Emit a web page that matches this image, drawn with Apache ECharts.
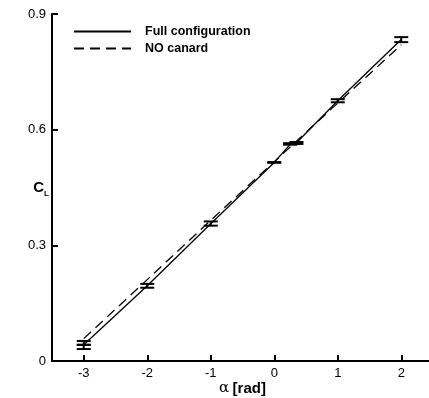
<!DOCTYPE html>
<html><head><meta charset="utf-8">
<script src="https://cdn.jsdelivr.net/npm/echarts@6/dist/echarts.min.js"></script>
<style>html,body{margin:0;padding:0;background:#fff}#c{width:429px;height:398px}</style>
</head><body><div id="c"></div>
<script>
const fullX = [-3, -2, -1, 0, 0.25, 0.35, 1, 2];
const fullY = [0.042, 0.195, 0.356, 0.515, 0.562, 0.566, 0.675, 0.834];
const noCanardX = [-3, -2, -1, 0, 1, 2];
const noCanardY = [0.058, 0.211, 0.365, 0.517, 0.669, 0.820];
const errX    = [-3, -3, -2, -1, 0, 0.25, 0.35, 1, 2];
const errLow  = [0.031, 0.042, 0.190, 0.351, 0.514, 0.561, 0.563, 0.671, 0.827];
const errHigh = [0.042, 0.052, 0.200, 0.362, 0.516, 0.565, 0.568, 0.679, 0.840];
const xTicks = [-3, -2, -1, 0, 1, 2];
const yTicks = [0, 0.3, 0.6, 0.9];

const chart = echarts.init(document.getElementById('c'), null, {renderer: 'canvas'});
const font = 'Liberation Sans, Arial, sans-serif';
chart.setOption({
  animation: false,
  textStyle: {fontFamily: font},
  grid: {left: 52, top: 14, bottom: 37, width: 381, containLabel: false, outerBoundsMode: 'none'},
  legend: {
    orient: 'vertical', left: 73, top: 25, itemGap: 4, itemWidth: 57, itemHeight: 10,
    padding: 0,
    data: ['Full configuration', 'NO canard'],
    itemStyle: {opacity: 0},
    textStyle: {fontFamily: font, fontWeight: 'bold', fontSize: 12.5, color: '#000', padding: [0, 0, 0, 9]}
  },
  xAxis: {
    type: 'value', min: -3.5, max: 2.5,
    name: '{a|α} {b|[rad]}', nameLocation: 'middle', nameGap: 20, nameMoveOverlap: false,
    nameTextStyle: {rich: {a: {fontFamily: 'DejaVu Serif', fontSize: 15, color: '#000'}, b: {fontFamily: font, fontWeight: 'bold', fontSize: 15, color: '#000'}}},
    axisLine: {onZero: false, lineStyle: {color: '#000', width: 2}},
    axisTick: {inside: true, length: 6, lineStyle: {color: '#000', width: 2}, customValues: xTicks},
    axisLabel: {customValues: xTicks, color: '#000', fontSize: 13, margin: 6, fontFamily: font},
    splitLine: {show: false}
  },
  yAxis: {
    type: 'value', min: 0, max: 0.9, interval: 0.3,
    name: '{c|C}{l|L}', nameLocation: 'middle', nameGap: 3, nameRotate: 0, nameMoveOverlap: false,
    nameTextStyle: {rich: {c: {fontFamily: font, fontWeight: 'bold', fontSize: 15, color: '#000'}, l: {fontFamily: font, fontWeight: 'bold', fontSize: 8, color: '#000', padding: [12, 0, 0, 0]}}},
    axisLine: {show: true, onZero: false, lineStyle: {color: '#000', width: 2}},
    axisTick: {show: true, inside: true, length: 6, lineStyle: {color: '#000', width: 2}},
    axisLabel: {color: '#000', fontSize: 13, margin: 6, fontFamily: font},
    splitLine: {show: false}
  },
  series: [
    {name: 'Full configuration', type: 'line', symbol: 'none',
     data: fullX.map((x, i) => [x, fullY[i]]),
     lineStyle: {color: '#000', width: 1.3}, itemStyle: {color: '#000'}},
    {name: 'NO canard', type: 'line', symbol: 'none',
     data: noCanardX.map((x, i) => [x, noCanardY[i]]),
     lineStyle: {color: '#000', width: 1.3, type: [10, 6]}, itemStyle: {color: '#000'}},
    {type: 'custom', silent: true,
     data: errX.map((x, i) => [x, errLow[i], errHigh[i]]),
     renderItem: function (params, api) {
       const lo = api.coord([api.value(0), api.value(1)]);
       const hi = api.coord([api.value(0), api.value(2)]);
       const w = 7;
       const st = {stroke: '#000', lineWidth: 2};
       return {type: 'group', children: [
         {type: 'line', shape: {x1: lo[0], y1: lo[1], x2: hi[0], y2: hi[1]}, style: st},
         {type: 'line', shape: {x1: lo[0] - w, y1: lo[1], x2: lo[0] + w, y2: lo[1]}, style: st},
         {type: 'line', shape: {x1: hi[0] - w, y1: hi[1], x2: hi[0] + w, y2: hi[1]}, style: st}
       ]};
     }}
  ]
});
</script></body></html>
